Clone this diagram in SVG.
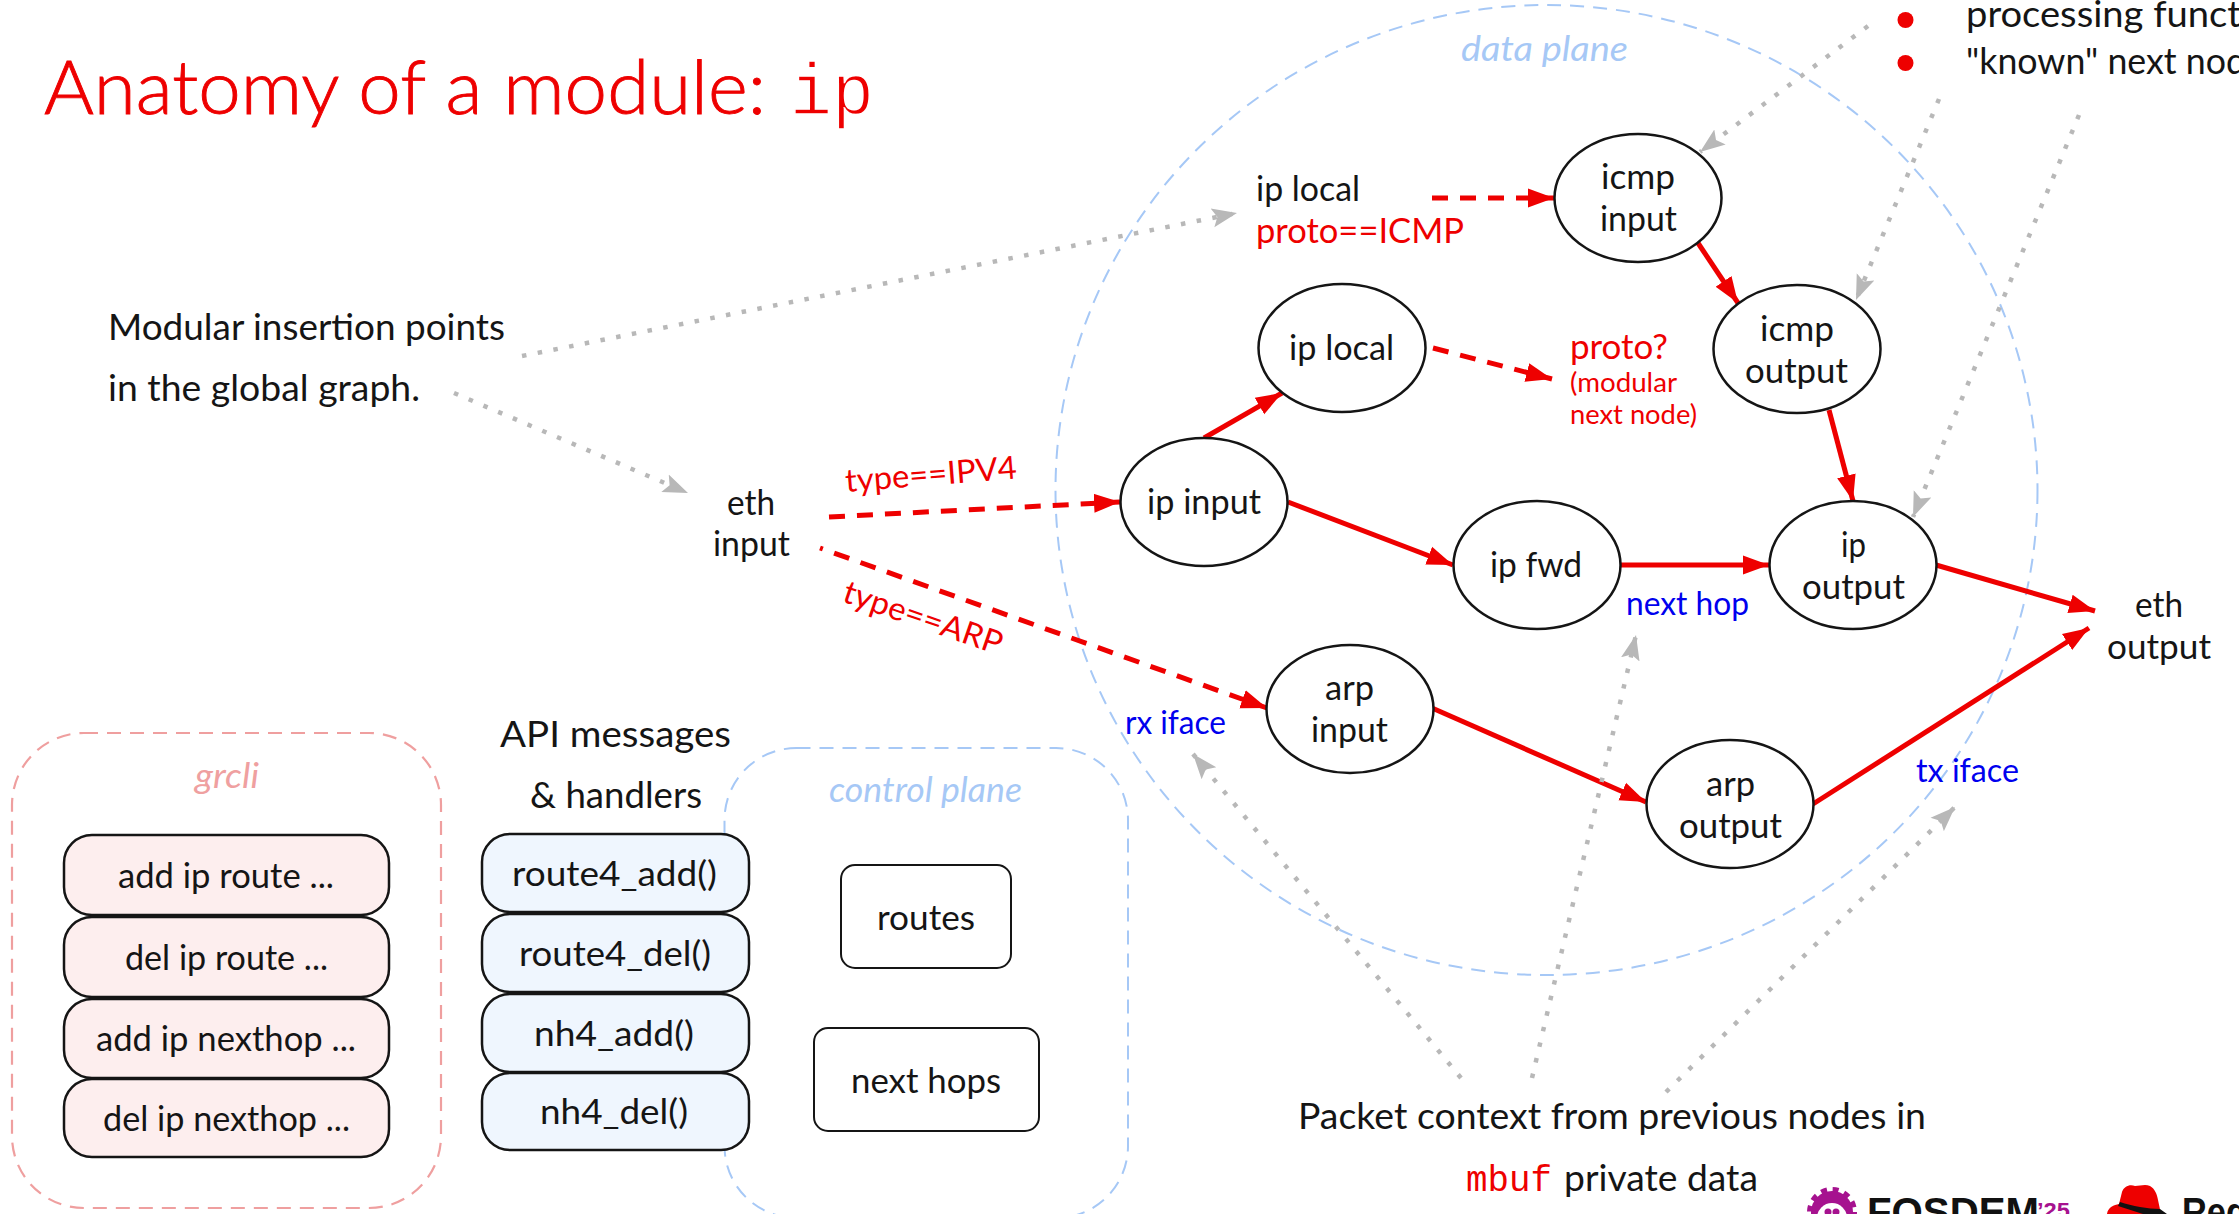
<svg xmlns="http://www.w3.org/2000/svg" width="2239" height="1214" viewBox="0 0 2239 1214">
<style>
text{font-family:"Lato","Open Sans","Liberation Sans",sans-serif;fill:#151515;font-size:36px}
.m{font-family:"Liberation Mono",monospace}
.r{fill:#ee0000}
.b{fill:#0000ee;font-size:32px}
.n{font-size:35px}
.bx{font-size:34px}
.gi{font-style:italic;fill:#efa0a0;font-size:34px}
.bi{font-style:italic;fill:#a6c8f6;font-size:34px}
.el{fill:#fff;stroke:#151515;stroke-width:2.5}
.pk{fill:#fdeeee;stroke:#151515;stroke-width:2.5}
.lb{fill:#eff6fe;stroke:#151515;stroke-width:2.5}
.wh{fill:#fff;stroke:#151515;stroke-width:2}
.zb{fill:none;stroke:#a6c8f6;stroke-width:2;stroke-dasharray:14 9}
.zp{fill:none;stroke:#ef9f9f;stroke-width:2.2;stroke-dasharray:14 9}
.a{fill:none;stroke:#ee0000;stroke-width:5;marker-end:url(#ar)}
.d{stroke-dasharray:16 12}
.g{fill:none;stroke:#b8b8b8;stroke-width:4.5;stroke-dasharray:4.5 11.5;marker-end:url(#ag)}
.lg{font-family:"Liberation Sans",sans-serif;font-weight:700;font-size:40px;fill:#111}
</style>
<defs>
<marker id="ar" markerUnits="userSpaceOnUse" markerWidth="27" markerHeight="22" refX="26" refY="11" orient="auto"><path d="M0,1.500L26,11L0,20.500z" fill="#ee0000"/></marker>
<marker id="ag" markerUnits="userSpaceOnUse" markerWidth="26" markerHeight="26" refX="25" refY="13" orient="auto"><path d="M0,3.500L25,13L0,22.500L5,13z" fill="#b8b8b8"/></marker>
</defs>

<g id="title"><text x="44" y="114" class="r" style="font-size:75px;font-weight:300;stroke:#ee0000;stroke-width:.9" textLength="722" lengthAdjust="spacingAndGlyphs">Anatomy of a module:</text><text x="790" y="114" class="m r" style="font-size:72px;stroke:#fff;stroke-width:1.500" textLength="84" lengthAdjust="spacingAndGlyphs">ip</text></g>

<g id="data-plane"><ellipse class="zb" cx="1546.500" cy="490" rx="491" ry="485"/><text class="bi" x="1461" y="61" textLength="167" lengthAdjust="spacingAndGlyphs">data plane</text></g>
<g id="grcli-frame"><rect class="zp" x="12" y="733" width="429" height="475" rx="72" ry="72"/><text class="gi" x="195" y="788" textLength="64" lengthAdjust="spacingAndGlyphs">grcli</text></g>
<g id="control-plane"><rect class="zb" x="724.500" y="748" width="403.500" height="470" rx="72" ry="72"/><text class="bi" x="829" y="802" textLength="193" lengthAdjust="spacingAndGlyphs">control plane</text></g>

<g id="connectors">
<path class="a d" d="M829,517L1120,502"/>
<path class="a d" style="stroke-dashoffset:13" d="M820,548L1267,708"/>
<path class="a d" d="M1432,198L1554,198"/>
<path class="a d" d="M1433,348L1552,379"/>
<path class="a" d="M1204,438L1282,393"/>
<path class="a" d="M1288,502L1453,565"/>
<path class="a" d="M1620,565L1769,565"/>
<path class="a" d="M1698,243L1738,303"/>
<path class="a" d="M1829,410L1853,501"/>
<path class="a" d="M1936,565L2095,611"/>
<path class="a" d="M1432,708L1646,802"/>
<path class="a" d="M1813,804L2089,628"/>
<path class="g" d="M522,356L1237,213"/>
<path class="g" d="M454,393L688,493"/>
<path class="g" d="M1868,26L1700,152"/>
<path class="g" d="M1939,99L1856,300"/>
<path class="g" d="M2079,115L1913,517"/>
<path class="g" d="M1461,1078L1193,754"/>
<path class="g" d="M1532,1078L1636,635"/>
<path class="g" d="M1666,1092L1955,807"/>
</g>

<g id="modular-note"><text x="108" y="340" textLength="397" lengthAdjust="spacingAndGlyphs">Modular insertion points</text><text x="108" y="401" textLength="312" lengthAdjust="spacingAndGlyphs">in the global graph.</text></g>
<g id="eth-input"><text class="n" x="727" y="515" textLength="48" lengthAdjust="spacingAndGlyphs">eth</text><text class="n" x="713" y="556" textLength="77" lengthAdjust="spacingAndGlyphs">input</text></g>
<g id="eth-output"><text class="n" x="2135" y="617" textLength="48" lengthAdjust="spacingAndGlyphs">eth</text><text class="n" x="2107" y="659" textLength="104" lengthAdjust="spacingAndGlyphs">output</text></g>
<g id="ip-local-proto"><text class="n" x="1256" y="201" textLength="104" lengthAdjust="spacingAndGlyphs">ip local</text><text class="n r" x="1256" y="243" textLength="208" lengthAdjust="spacingAndGlyphs">proto==ICMP</text></g>
<g id="proto-label"><text class="n r" x="1570" y="359" textLength="98" lengthAdjust="spacingAndGlyphs">proto?</text><text class="r" style="font-size:27px" x="1570" y="392" textLength="107" lengthAdjust="spacingAndGlyphs">(modular</text><text class="r" style="font-size:27px" x="1570" y="424" textLength="127" lengthAdjust="spacingAndGlyphs">next node)</text></g>
<g id="edge-labels"><text class="r" style="font-size:32px" transform="translate(846 492) rotate(-4.500)" textLength="172" lengthAdjust="spacingAndGlyphs">type==IPV4</text><text class="r" style="font-size:32px" transform="translate(841 601) rotate(19)" textLength="166" lengthAdjust="spacingAndGlyphs">type==ARP</text></g>

<g id="node-icmp-input"><ellipse class="el" cx="1638" cy="198" rx="83.500" ry="64"/><text class="n" x="1601" y="189" textLength="74" lengthAdjust="spacingAndGlyphs">icmp</text><text class="n" x="1600" y="231" textLength="77" lengthAdjust="spacingAndGlyphs">input</text></g>
<g id="node-ip-local"><ellipse class="el" cx="1342" cy="348" rx="83.500" ry="64"/><text class="n" x="1289" y="360" textLength="105" lengthAdjust="spacingAndGlyphs">ip local</text></g>
<g id="node-icmp-output"><ellipse class="el" cx="1797" cy="349" rx="83.500" ry="64"/><text class="n" x="1760" y="341" textLength="74" lengthAdjust="spacingAndGlyphs">icmp</text><text class="n" x="1745" y="383" textLength="103" lengthAdjust="spacingAndGlyphs">output</text></g>
<g id="node-ip-input"><ellipse class="el" cx="1204" cy="502" rx="83.500" ry="64"/><text class="n" x="1147" y="514" textLength="114" lengthAdjust="spacingAndGlyphs">ip input</text></g>
<g id="node-ip-fwd"><ellipse class="el" cx="1537" cy="565" rx="83.500" ry="64"/><text class="n" x="1490" y="577" textLength="92" lengthAdjust="spacingAndGlyphs">ip fwd</text></g>
<g id="node-ip-output"><ellipse class="el" cx="1853" cy="565" rx="83.500" ry="64"/><text class="n" x="1841" y="557" textLength="25" lengthAdjust="spacingAndGlyphs">ip</text><text class="n" x="1802" y="599" textLength="103" lengthAdjust="spacingAndGlyphs">output</text></g>
<g id="node-arp-input"><ellipse class="el" cx="1350" cy="709" rx="83.500" ry="64"/><text class="n" x="1325" y="700" textLength="49" lengthAdjust="spacingAndGlyphs">arp</text><text class="n" x="1311" y="742" textLength="77" lengthAdjust="spacingAndGlyphs">input</text></g>
<g id="node-arp-output"><ellipse class="el" cx="1730" cy="804" rx="83.500" ry="64"/><text class="n" x="1706" y="796" textLength="49" lengthAdjust="spacingAndGlyphs">arp</text><text class="n" x="1679" y="838" textLength="103" lengthAdjust="spacingAndGlyphs">output</text></g>

<g id="context-labels"><text class="b" x="1626" y="615" textLength="123" lengthAdjust="spacingAndGlyphs">next hop</text><text class="b" x="1125" y="734" textLength="101" lengthAdjust="spacingAndGlyphs">rx iface</text><text class="b" x="1916" y="782" textLength="103" lengthAdjust="spacingAndGlyphs">tx iface</text></g>

<g id="bullets"><circle cx="1905.500" cy="20" r="8" fill="#ee0000"/><circle cx="1905.500" cy="63" r="8" fill="#ee0000"/><text x="1966" y="27" textLength="275" lengthAdjust="spacingAndGlyphs">processing funct</text><text x="1966" y="74" textLength="280" lengthAdjust="spacingAndGlyphs">"known" next nod</text></g>

<g id="api-heading"><text x="500" y="747" textLength="231" lengthAdjust="spacingAndGlyphs">API messages</text><text x="530" y="808" textLength="172" lengthAdjust="spacingAndGlyphs">&amp; handlers</text></g>

<g id="cli-add-route"><rect class="pk" x="64" y="835" width="325" height="80" rx="28"/><text class="bx" x="118" y="888" textLength="216" lengthAdjust="spacingAndGlyphs">add ip route ...</text></g>
<g id="cli-del-route"><rect class="pk" x="64" y="917" width="325" height="80" rx="28"/><text class="bx" x="125" y="970" textLength="203" lengthAdjust="spacingAndGlyphs">del ip route ...</text></g>
<g id="cli-add-nexthop"><rect class="pk" x="64" y="999" width="325" height="79" rx="28"/><text class="bx" x="96" y="1051" textLength="260" lengthAdjust="spacingAndGlyphs">add ip nexthop ...</text></g>
<g id="cli-del-nexthop"><rect class="pk" x="64" y="1079" width="325" height="78" rx="28"/><text class="bx" x="103" y="1131" textLength="247" lengthAdjust="spacingAndGlyphs">del ip nexthop ...</text></g>

<g id="api-route4-add"><rect class="lb" x="482" y="834" width="267" height="78" rx="28"/><text class="bx" x="512" y="886" textLength="205" lengthAdjust="spacingAndGlyphs">route4_add()</text></g>
<g id="api-route4-del"><rect class="lb" x="482" y="914" width="267" height="78" rx="28"/><text class="bx" x="519" y="966" textLength="192" lengthAdjust="spacingAndGlyphs">route4_del()</text></g>
<g id="api-nh4-add"><rect class="lb" x="482" y="994" width="267" height="78" rx="28"/><text class="bx" x="534" y="1046" textLength="160" lengthAdjust="spacingAndGlyphs">nh4_add()</text></g>
<g id="api-nh4-del"><rect class="lb" x="482" y="1073" width="267" height="77" rx="28"/><text class="bx" x="540" y="1124" textLength="148" lengthAdjust="spacingAndGlyphs">nh4_del()</text></g>

<g id="store-routes"><rect class="wh" x="841" y="865" width="170" height="103" rx="14"/><text class="bx" x="877" y="930" textLength="98" lengthAdjust="spacingAndGlyphs">routes</text></g>
<g id="store-next-hops"><rect class="wh" x="814" y="1028" width="225" height="103" rx="14"/><text class="bx" x="851" y="1093" textLength="150" lengthAdjust="spacingAndGlyphs">next hops</text></g>

<g id="packet-note"><text x="1298" y="1129" textLength="628" lengthAdjust="spacingAndGlyphs">Packet context from previous nodes in</text><text class="m r" x="1466" y="1191" textLength="86" lengthAdjust="spacingAndGlyphs">mbuf</text><text x="1564" y="1191" textLength="194" lengthAdjust="spacingAndGlyphs">private data</text></g>

<g id="fosdem-logo"><circle cx="1832" cy="1212" r="21" fill="#a6128f"/><circle cx="1832" cy="1212" r="22.500" fill="none" stroke="#a6128f" stroke-width="5" stroke-dasharray="6 5.780"/><circle cx="1832" cy="1218" r="15" fill="#fff"/><circle cx="1828" cy="1212" r="3.500" fill="#a6128f"/><circle cx="1836" cy="1212" r="3.500" fill="#a6128f"/><text class="lg" x="1867" y="1226" textLength="172" lengthAdjust="spacingAndGlyphs">FOSDEM</text><text class="lg" x="2037" y="1218" style="font-size:22px;fill:#a6128f" textLength="33" lengthAdjust="spacingAndGlyphs">’25</text></g>
<g id="redhat-logo"><path d="M2107,1214C2108,1207 2114,1205 2119,1204L2122,1192C2124,1186 2130,1184 2135,1186C2140,1186 2145,1184 2150,1186C2155,1189 2157,1194 2158,1200L2161,1214z" fill="#ee0000"/><path d="M2120,1202C2132,1206 2148,1209 2160,1209L2167,1214H2143L2118,1206z" fill="#111"/><text class="lg" x="2182" y="1226" textLength="65" lengthAdjust="spacingAndGlyphs">Red</text></g>
</svg>
